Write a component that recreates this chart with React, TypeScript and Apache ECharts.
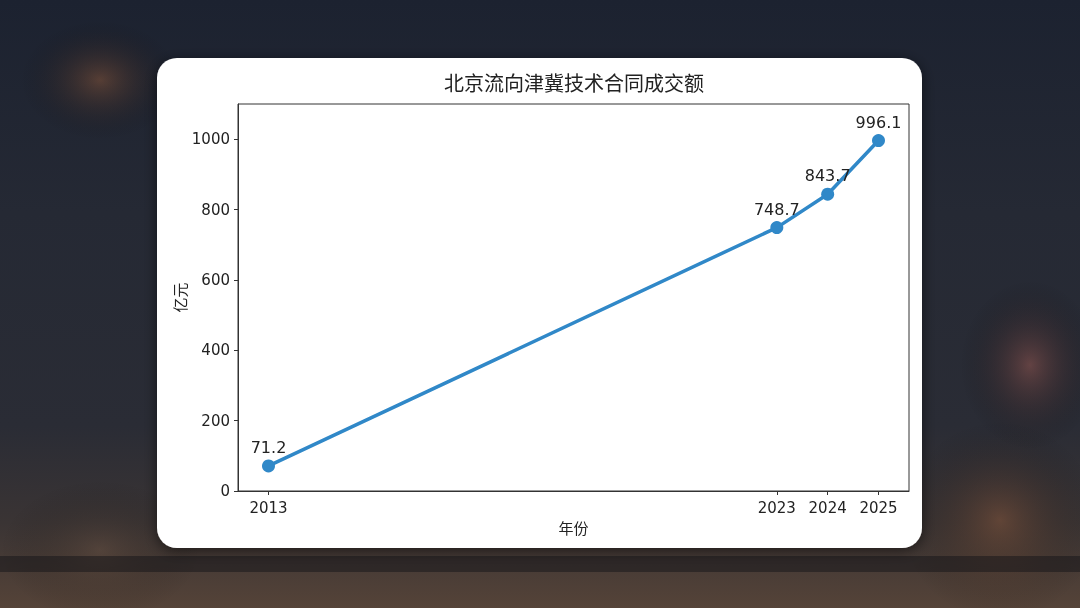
import React, { useEffect, useRef } from "react";
import * as echarts from "echarts";

const years = [2013, 2023, 2024, 2025];
const values = [71.2, 748.7, 843.7, 996.1];
const yTicks = [0, 200, 400, 600, 800, 1000];
const titleText = "北京流向津冀技术合同成交额";
const xName = "年份";
const yName = "亿元";

function glow(x: number, y: number, w: number, h: number, color: string) {
  return {
    type: "rect",
    z: -19,
    silent: true,
    shape: { x, y, width: w, height: h },
    style: {
      fill: new echarts.graphic.RadialGradient(0.5, 0.5, 0.5, [
        { offset: 0, color },
        { offset: 1, color: "rgba(0,0,0,0)" },
      ]),
    },
  };
}

export default function App() {
  const ref = useRef<HTMLDivElement>(null);
  useEffect(() => {
    document.body.style.margin = "0";
    const chart = echarts.init(ref.current!, undefined, { renderer: "svg" });
    const font = '"DejaVu Sans", "Noto Sans CJK SC", sans-serif';
    chart.setOption({
      animation: false,
      title: {
        text: titleText,
        left: 569,
        top: 67,
        textAlign: "center",
        textStyle: { fontFamily: '"Noto Sans CJK SC", sans-serif', fontSize: 20, fontWeight: "normal", color: "#222" },
      },
      graphic: [
        {
          type: "rect",
          z: -20,
          silent: true,
          shape: { x: 0, y: 0, width: 1080, height: 608 },
          style: {
            fill: new echarts.graphic.LinearGradient(0, 0, 0, 1, [
              { offset: 0, color: "#1c2230" },
              { offset: 0.35, color: "#252934" },
              { offset: 0.7, color: "#2a2c35" },
              { offset: 0.86, color: "#3a3434" },
              { offset: 1, color: "#554338" },
            ]),
          },
        },
        glow(20, 20, 160, 120, "rgba(190,110,60,0.35)"),
        glow(960, 280, 140, 170, "rgba(170,95,85,0.45)"),
        glow(900, 420, 200, 200, "rgba(170,100,60,0.35)"),
        glow(0, 480, 200, 140, "rgba(120,90,70,0.3)"),
        {
          type: "rect",
          z: -18,
          silent: true,
          shape: { x: 0, y: 556, width: 1080, height: 16 },
          style: { fill: "rgba(20,20,24,0.5)" },
        },
        {
          type: "rect",
          z: -10,
          silent: true,
          shape: { x: 157, y: 58, width: 765, height: 490, r: 20 },
          style: {
            fill: "#ffffff",
            shadowBlur: 14,
            shadowOffsetY: 3,
            shadowColor: "rgba(0,0,0,0.55)",
          },
        },
      ],
      grid: {
        left: 238,
        top: 104,
        right: 171,
        bottom: 117,
        show: true,
        borderColor: "#333",
        borderWidth: 1,
        backgroundColor: "transparent",
      },
      xAxis: {
        type: "value",
        min: 2012.4,
        max: 2025.6,
        name: xName,
        nameLocation: "middle",
        nameGap: 30,
        nameMoveOverlap: false,
        nameTextStyle: { fontFamily: font, fontSize: 15, color: "#222" },
        axisLine: { show: true, lineStyle: { color: "#333", width: 1 } },
        axisTick: { show: true, length: 4, inside: false, lineStyle: { color: "#333" }, customValues: years },
        axisLabel: {
          fontFamily: font,
          fontSize: 15,
          color: "#222",
          margin: 9,
          customValues: years,
          formatter: (v: number) => String(v),
        },
        splitLine: { show: false },
      },
      yAxis: {
        type: "value",
        min: 0,
        max: 1100,
        name: yName,
        nameLocation: "middle",
        nameGap: 50,
        nameMoveOverlap: false,
        nameTextStyle: { fontFamily: font, fontSize: 15, color: "#222" },
        axisLine: { show: true, lineStyle: { color: "#333", width: 1 } },
        axisTick: { show: true, length: 4, inside: false, lineStyle: { color: "#333" }, customValues: yTicks },
        axisLabel: {
          fontFamily: font,
          fontSize: 15,
          color: "#222",
          margin: 8,
          customValues: yTicks,
          formatter: (v: number) => String(v),
        },
        splitLine: { show: false },
      },
      series: [
        {
          type: "line",
          data: years.map((y, i) => [y, values[i]]),
          symbol: "circle",
          symbolSize: 13,
          lineStyle: { color: "#3088c8", width: 3.5 },
          itemStyle: { color: "#3088c8" },
          label: {
            show: true,
            position: "top",
            distance: 4,
            fontFamily: font,
            fontSize: 16,
            color: "#222",
            formatter: (p: any) => String(p.value[1]),
          },
        },
      ],
    });
    return () => chart.dispose();
  }, []);
  return (
    <div
      ref={ref}
      style={{ position: "fixed", left: 0, top: 0, width: 1080, height: 608 }}
    />
  );
}
